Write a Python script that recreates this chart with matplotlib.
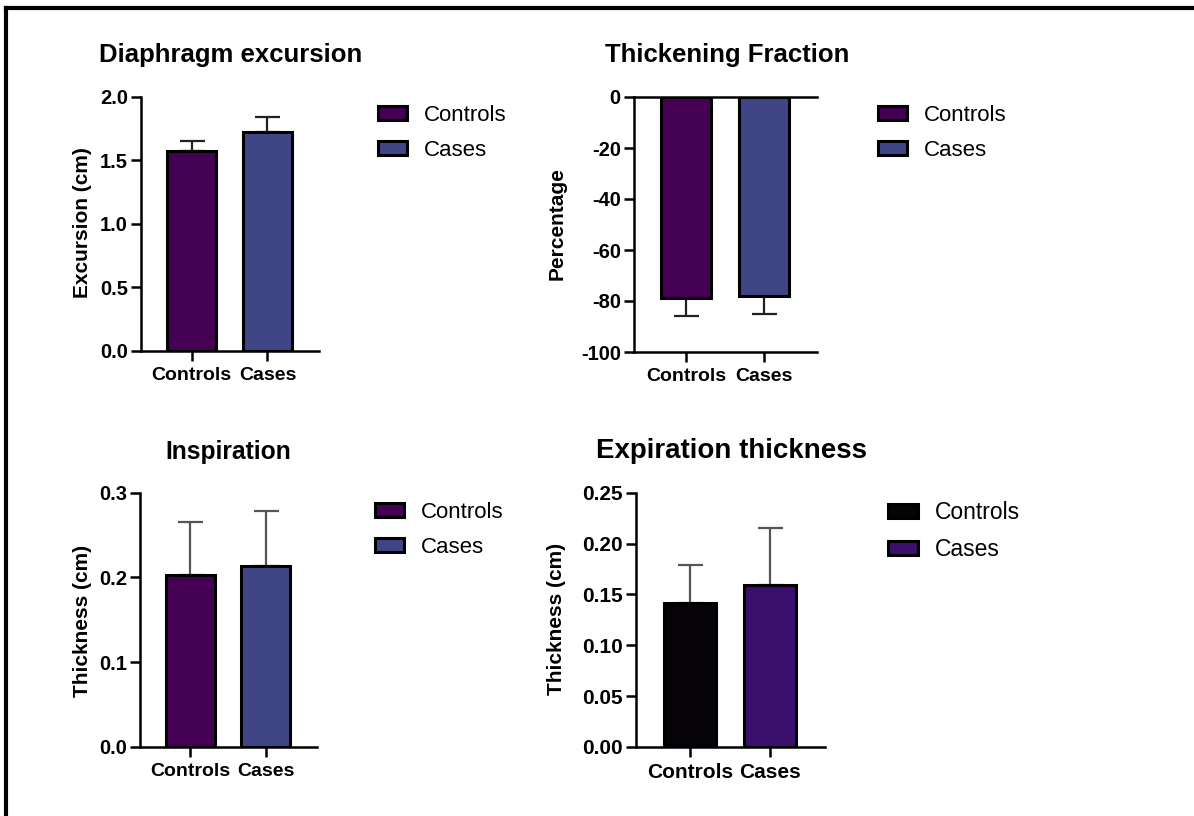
import matplotlib.pyplot as plt
from matplotlib.patches import Patch
from matplotlib.lines import Line2D

plt.rcParams['font.family'] = ['Liberation Sans', 'DejaVu Sans']

groups = ["Controls", "Cases"]

# Diaphragm excursion (cm)
excursion_mean = [1.57, 1.72]
excursion_err = [0.08, 0.12]

# Thickening fraction (%)
fraction_mean = [-79.0, -78.0]
fraction_err = [6.8, 7.0]

# Inspiration thickness (cm)
insp_mean = [0.203, 0.213]
insp_err = [0.063, 0.066]

# Expiration thickness (cm)
exp_mean = [0.142, 0.159]
exp_err = [0.037, 0.056]

viridis_colors = ["#440154", "#404586"]
dark_colors = ["#050308", "#3b0f6c"]

W, H = 1194, 816
fig = plt.figure(figsize=(W / 100, H / 100), dpi=100)


def ax_at(x0, x1, y_top, y_bot):
    return fig.add_axes([x0 / W, 1 - y_bot / H, (x1 - x0) / W, (y_bot - y_top) / H])


def draw_panel(ax, means, errs, colors, yticks, fmt, err_color, negative=False,
               tick_fs=14.5, xtick_fs=14):
    x = [0, 1]
    ax.bar(x, means, width=0.65, color=colors, edgecolor="black", linewidth=2.2, zorder=2)
    if negative:
        yerr = [errs, [0, 0]]
    else:
        yerr = [[0, 0], errs]
    ax.errorbar(x, means, yerr=yerr, fmt="none", ecolor=err_color, elinewidth=1.6,
                capsize=9, capthick=1.6, zorder=1)
    ax.set_xlim(-0.67, 1.68)
    ax.set_ylim(yticks[0], yticks[-1])
    ax.set_yticks(yticks)
    ax.set_yticklabels([fmt.format(v) for v in yticks], fontweight="bold", fontsize=tick_fs)
    ax.set_xticks(x)
    ax.set_xticklabels(groups, fontweight="bold", fontsize=xtick_fs)
    ax.spines["right"].set_visible(False)
    ax.spines["top"].set_visible(negative)
    for s in ax.spines.values():
        s.set_linewidth(1.8)
    ax.tick_params(axis="both", length=7.5, width=1.8, color="black")
    ax.tick_params(axis="y", pad=2)
    ax.tick_params(axis="x", pad=4)


def draw_legend(ax, colors, x, y, fs=16):
    handles = [Patch(facecolor=c, edgecolor="black", linewidth=2.2) for c in colors]
    ax.legend(handles, groups, loc="upper left", bbox_to_anchor=(x / W, 1 - y / H),
              bbox_transform=fig.transFigure, frameon=False, borderpad=0,
              borderaxespad=0, handlelength=1.3, handleheight=0.55,
              handletextpad=0.75, labelspacing=0.62, fontsize=fs)


# Panel 1: Diaphragm excursion
ax1 = ax_at(141, 319, 96.7, 351)
draw_panel(ax1, excursion_mean, excursion_err, viridis_colors,
           [0.0, 0.5, 1.0, 1.5, 2.0], "{:.1f}", "#222222")
draw_legend(ax1, viridis_colors, 378, 105)
fig.text(231 / W, 1 - 55 / H, "Diaphragm excursion", ha="center", va="center",
         fontsize=18.5, fontweight="bold")
fig.text(82 / W, 1 - 223 / H, "Excursion (cm)", ha="center", va="center",
         rotation=90, fontsize=15, fontweight="bold")

# Panel 2: Thickening Fraction
ax2 = ax_at(634, 817, 97, 352)
draw_panel(ax2, fraction_mean, fraction_err, viridis_colors,
           [-100, -80, -60, -40, -20, 0], "{:d}", "#222222", negative=True)
draw_legend(ax2, viridis_colors, 878, 105)
fig.text(727 / W, 1 - 55 / H, "Thickening Fraction", ha="center", va="center",
         fontsize=18.5, fontweight="bold")
fig.text(557 / W, 1 - 224 / H, "Percentage", ha="center", va="center",
         rotation=90, fontsize=15, fontweight="bold")

# Panel 3: Inspiration
ax3 = ax_at(140, 317, 492.7, 747)
draw_panel(ax3, insp_mean, insp_err, viridis_colors,
           [0.0, 0.1, 0.2, 0.3], "{:.1f}", "#555555")
draw_legend(ax3, viridis_colors, 375, 502)
fig.text(228 / W, 1 - 452 / H, "Inspiration", ha="center", va="center",
         fontsize=17.7, fontweight="bold")
fig.text(82 / W, 1 - 621 / H, "Thickness (cm)", ha="center", va="center",
         rotation=90, fontsize=15, fontweight="bold")

# Panel 4: Expiration thickness
ax4 = ax_at(636, 825, 492.7, 747)
draw_panel(ax4, exp_mean, exp_err, dark_colors,
           [0.0, 0.05, 0.10, 0.15, 0.20, 0.25], "{:.2f}", "#555555",
           tick_fs=15, xtick_fs=15)
draw_legend(ax4, dark_colors, 888, 501, fs=16.5)
fig.text(731 / W, 1 - 451 / H, "Expiration thickness", ha="center", va="center",
         fontsize=20, fontweight="bold")
fig.text(557 / W, 1 - 619 / H, "Thickness (cm)", ha="center", va="center",
         rotation=90, fontsize=15, fontweight="bold")

# outer frame (top and left edges)
fig.add_artist(Line2D([6 / W, 6 / W], [0, 1 - 8 / H], transform=fig.transFigure,
                      color="black", linewidth=3))
fig.add_artist(Line2D([6 / W, 1], [1 - 8 / H, 1 - 8 / H], transform=fig.transFigure,
                      color="black", linewidth=3))

fig.savefig("out.png", dpi=100)
